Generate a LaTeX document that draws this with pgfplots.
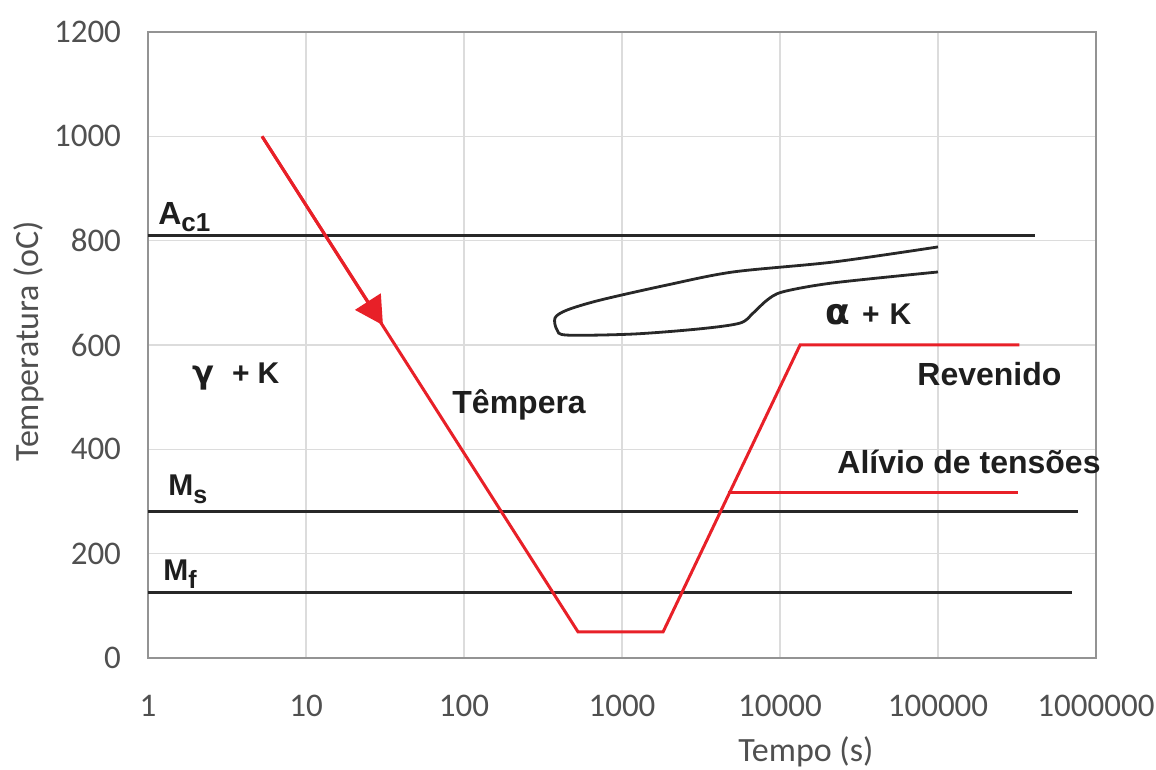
\documentclass[border=0pt]{standalone}
\usepackage{fontspec}
\setmainfont{Liberation Sans}
\newfontfamily\calib{Carlito}
\newfontfamily\greek{DejaVu Sans}
\usepackage{pgfplots}
\pgfplotsset{compat=1.18}
\usetikzlibrary{arrows.meta}
\definecolor{myred}{RGB}{232,32,40}
\definecolor{txtgray}{RGB}{80,80,80}
\definecolor{gridgray}{RGB}{220,220,220}
\definecolor{linegray}{RGB}{40,40,40}
\definecolor{anntext}{RGB}{30,30,30}
\newcommand{\fs}[1]{\fontsize{#1}{#1}\selectfont}
\begin{document}
\begin{tikzpicture}
\useasboundingbox (-74bp,-56bp) rectangle (504bp,329bp);
\begin{axis}[
 at={(0,0)}, anchor=south west,
 scale only axis, width=474bp, height=313bp,
 xmode=log, log basis x=10,
 xmin=1, xmax=1e6, ymin=0, ymax=1200,
 xtick={1,10,100,1000,10000,100000,1000000},
 xticklabels={1,10,100,1000,10000,100000,1000000},
 ytick={0,200,400,600,800,1000,1200},
 yticklabels={0,200,400,600,800,1000,1200},
 major tick length=0pt, minor tick length=0pt,
 grid=major,
 major grid style={gridgray, line width=0.8bp},
 axis line style={draw=gray!85, line width=1bp},
 tick label style={font=\calib\fs{16.5bp}, text=txtgray},
 xticklabel style={yshift=-15bp},
 yticklabel style={xshift=-10bp},
 xlabel={Tempo (s)}, ylabel={Temperatura (oC)},
 label style={font=\calib\fs{17bp}, text=txtgray},
 xlabel style={at={(rel axis cs:0.694,-0.150)}, anchor=center},
 ylabel style={at={(rel axis cs:-0.1255,0.506)}, anchor=center},
 clip=false,
]
% critical temperature lines
\addplot[linegray, line width=1.5bp] coordinates {(1,810) (410000,810)};
\addplot[linegray, line width=1.5bp] coordinates {(1,280) (770000,280)};
\addplot[linegray, line width=1.5bp] coordinates {(1,125) (705000,125)};
% transformation nose curve
\addplot[linegray, line width=1.4bp, smooth, tension=0.5] coordinates {
 (100000,788) (21640,759) (5045,740) (1928,715) (726,686) (449,667)
 (377,652) (388,629) (449,619) (1175,621) (3118,631) (5585,642)
 (6750,661) (8280,686) (10450,702) (21640,719) (100000,740)};
% quench + tempering path
\addplot[myred, line width=1.5bp] coordinates {
 (5.27,1000) (527,50) (1820,50) (13400,600) (327000,600)};
\addplot[myred, line width=1.5bp] coordinates {(4700,318) (320000,318)};
% arrow head on quench line
\addplot[myred, line width=1.5bp, -{Triangle[length=14bp,width=15bp]}] coordinates {(5.27,1000) (30.7,638)};
% annotations
\node[anchor=base west, inner sep=0, text=anntext, font=\bfseries\fs{16bp}] at (rel axis cs:0.0105,0.692) {A\raisebox{-3.5bp}{\fs{13bp}c1}};
\node[anchor=base west, inner sep=0, text=anntext, font=\bfseries\fs{15bp}] at (rel axis cs:0.0211,0.260) {M\raisebox{-4bp}{\fs{12.5bp}s}};
\node[anchor=base west, inner sep=0, text=anntext, font=\bfseries\fs{15bp}] at (rel axis cs:0.0158,0.1246) {M\raisebox{-4bp}{\fs{12.5bp}f}};
\node[anchor=base west, inner sep=0, text=anntext, font=\bfseries\fs{15bp}] at (rel axis cs:0.0464,0.439) {{\greek\bfseries\fs{16bp}γ}\hspace{9bp}+\hspace{4bp}K};
\node[anchor=base west, inner sep=0, text=anntext, font=\bfseries\fs{16bp}] at (rel axis cs:0.3207,0.391) {Têmpera};
\node[anchor=base west, inner sep=0, text=anntext, font=\bfseries\fs{15bp}] at (rel axis cs:0.7141,0.532) {{\greek\bfseries\fs{18bp}α}\hspace{6bp}+\hspace{5bp}K};
\node[anchor=base west, inner sep=0, text=anntext, font=\bfseries\fs{16bp}] at (rel axis cs:0.8112,0.436) {Revenido};
\node[anchor=base west, inner sep=0, text=anntext, font=\bfseries\fs{16bp}] at (rel axis cs:0.7268,0.294) {Alívio de tensões};
\end{axis}
\end{tikzpicture}
\end{document}
